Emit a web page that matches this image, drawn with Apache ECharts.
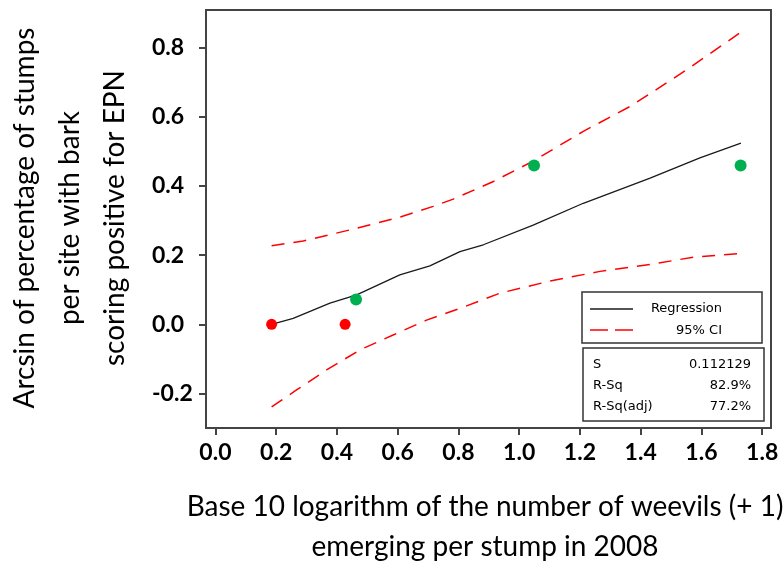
<!DOCTYPE html>
<html><head><meta charset="utf-8">
<script src="https://cdn.jsdelivr.net/npm/echarts@6/dist/echarts.min.js"></script>
<style>html,body{margin:0;padding:0;background:#fff}#c{width:783px;height:564px}</style>
</head><body><div id="c"></div>
<script>
// ---- data ----
const redX = [0.185, 0.427];
const redY = [0.0, 0.0];
const greenX = [0.463, 1.049, 1.729];
const greenY = [0.072, 0.459, 0.459];

const regX = [0.185, 0.256, 0.377, 0.465, 0.607, 0.706, 0.805, 0.882, 1.046, 1.211, 1.431, 1.595, 1.73];
const regY = [0.000, 0.017, 0.061, 0.085, 0.143, 0.169, 0.210, 0.230, 0.287, 0.350, 0.423, 0.481, 0.524];

const ciUpX = [0.185, 0.289, 0.443, 0.607, 0.717, 0.783, 0.915, 1.046, 1.211, 1.365, 1.431, 1.551, 1.73];
const ciUpY = [0.227, 0.241, 0.273, 0.310, 0.341, 0.362, 0.413, 0.472, 0.558, 0.630, 0.667, 0.736, 0.845];

const ciLoX = [0.185, 0.267, 0.366, 0.476, 0.585, 0.695, 0.805, 0.937, 1.101, 1.266, 1.431, 1.573, 1.73];
const ciLoY = [-0.239, -0.190, -0.132, -0.074, -0.031, 0.012, 0.046, 0.090, 0.125, 0.153, 0.173, 0.194, 0.205];

const xTicks = [0.0, 0.2, 0.4, 0.6, 0.8, 1.0, 1.2, 1.4, 1.6, 1.8];
const yTicks = [-0.2, 0.0, 0.2, 0.4, 0.6, 0.8];

const xTitleLines = ['Base 10 logarithm of the number of weevils (+ 1)', 'emerging per stump in 2008'];
const yTitleLines = ['Arcsin of percentage of stumps', 'per site with bark', 'scoring positive for EPN'];

const legendNames = ['Regression', '95% CI'];
const statNames = ['S', 'R-Sq', 'R-Sq(adj)'];
const statValues = ['0.112129', '82.9%', '77.2%'];

// ---- build ----
const pairs = (xs, ys) => xs.map((x, i) => [x, ys[i]]);
const AX = '#444';
const tickFont = {fontFamily: 'Lato', fontWeight: 'bold', fontSize: 23, color: '#000'};
const legFont = '13px "DejaVu Sans"';

const chart = echarts.init(document.getElementById('c'), null, {renderer: 'canvas'});
const option = {
  animation: false,
  backgroundColor: '#fff',
  grid: {left: 206, top: 10, width: 565, height: 418, show: true, borderColor: AX, borderWidth: 2, backgroundColor: 'transparent'},
  xAxis: {
    type: 'value', min: -0.031, max: 1.829,
    axisLine: {show: true, onZero: false, lineStyle: {color: AX, width: 2}},
    axisTick: {show: true, customValues: xTicks, length: 7, lineStyle: {color: AX, width: 2}},
    axisLabel: Object.assign({customValues: xTicks, formatter: v => v.toFixed(1), margin: 13}, tickFont),
    splitLine: {show: false}
  },
  yAxis: {
    type: 'value', min: -0.300, max: 0.909,
    axisLine: {show: true, onZero: false, lineStyle: {color: AX, width: 2}},
    axisTick: {show: true, customValues: yTicks, length: 7, lineStyle: {color: AX, width: 2}},
    axisLabel: Object.assign({customValues: yTicks, formatter: v => v.toFixed(1), margin: 54, align: 'left'}, tickFont),
    splitLine: {show: false}
  },
  series: [
    {type: 'line', name: legendNames[1], data: pairs(ciUpX, ciUpY), symbol: 'none', silent: true,
     lineStyle: {color: '#ff0000', width: 1.5, type: [13, 9]}},
    {type: 'line', name: legendNames[1] + ' lo', data: pairs(ciLoX, ciLoY), symbol: 'none', silent: true,
     lineStyle: {color: '#ff0000', width: 1.5, type: [13, 9]}},
    {type: 'line', name: legendNames[0], data: pairs(regX, regY), symbol: 'none', silent: true,
     lineStyle: {color: '#1a1a1a', width: 1.3}},
    {type: 'scatter', data: pairs(redX, redY), symbol: 'circle', symbolSize: 11, itemStyle: {color: '#ff0000', opacity: 1}, z: 5},
    {type: 'scatter', data: pairs(greenX, greenY), symbol: 'circle', symbolSize: 12, itemStyle: {color: '#00b050', opacity: 1}, z: 5}
  ],
  graphic: [
    // axis titles
    {type: 'text', x: 485, y: 507, style: {text: xTitleLines[0], font: '28px Lato', fill: '#000', textAlign: 'center', textVerticalAlign: 'middle'}},
    {type: 'text', x: 485, y: 547, style: {text: xTitleLines[1], font: '28px Lato', fill: '#000', textAlign: 'center', textVerticalAlign: 'middle'}},
    {type: 'text', x: 70, y: 218, rotation: Math.PI / 2,
     style: {text: yTitleLines.join('\n'), font: '28px Lato', lineHeight: 45, fill: '#000', textAlign: 'center', textVerticalAlign: 'middle'}},
    // legend box
    {type: 'rect', shape: {x: 582, y: 292, width: 180, height: 51}, style: {fill: '#fff', stroke: '#333', lineWidth: 1.5}, z: 10},
    {type: 'line', shape: {x1: 590, y1: 309, x2: 633, y2: 309}, style: {stroke: '#1a1a1a', lineWidth: 1.3}, z: 11},
    {type: 'line', shape: {x1: 590, y1: 330, x2: 633, y2: 330}, style: {stroke: '#ff0000', lineWidth: 1.5, lineDash: [18, 7]}, z: 11},
    {type: 'text', x: 722, y: 309, style: {text: legendNames[0], font: legFont, fill: '#000', textAlign: 'right', textVerticalAlign: 'middle'}, z: 11},
    {type: 'text', x: 722, y: 331, style: {text: legendNames[1], font: legFont, fill: '#000', textAlign: 'right', textVerticalAlign: 'middle'}, z: 11},
    // stats box
    {type: 'rect', shape: {x: 583, y: 348, width: 181, height: 73}, style: {fill: '#fff', stroke: '#333', lineWidth: 1.5}, z: 10}
  ].concat(statNames.map((n, i) => ({type: 'text', x: 593, y: 365 + i * 21, style: {text: n, font: legFont, fill: '#000', textAlign: 'left', textVerticalAlign: 'middle'}, z: 11})))
   .concat(statValues.map((v, i) => ({type: 'text', x: 751, y: 365 + i * 21, style: {text: v, font: legFont, fill: '#000', textAlign: 'right', textVerticalAlign: 'middle'}, z: 11})))
};
chart.setOption(option);
</script>
</body></html>
